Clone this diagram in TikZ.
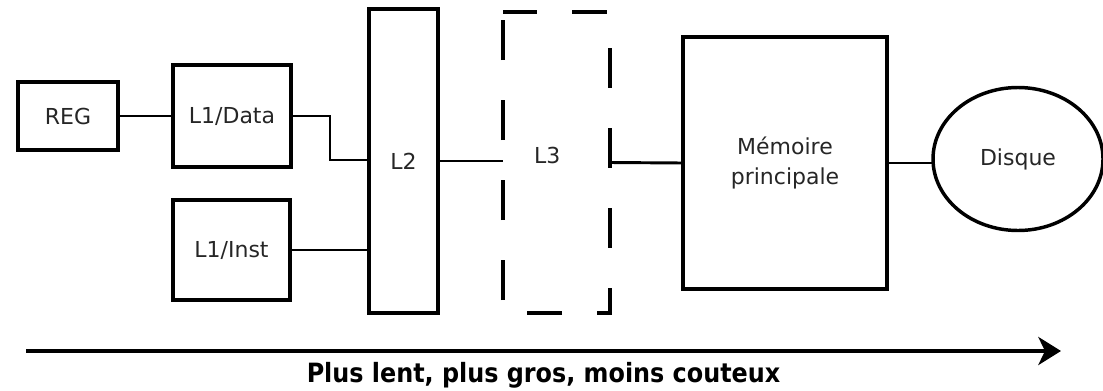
\documentclass[tikz,border=0pt]{standalone}
\usepackage{fontspec}
\setmainfont{DejaVu Sans}
\newfontfamily\captionfont{DejaVu Sans Condensed}
\usetikzlibrary{arrows.meta,shapes.geometric}
% one unit = one pixel of the final drawing
\newcommand\upx{*0.75pt}
\begin{document}
\begin{tikzpicture}[x=0.75pt,y=-0.75pt,
  box/.style={draw,line width=2.6pt,rectangle,inner sep=0pt,outer sep=0pt,
    font=\fontsize{16.5}{22.5}\selectfont,text=black!85},
  wire/.style={line width=2.2pt},
  dashedge/.style={line width=2.6pt},
  flow/.style={line width=3pt,-{Stealth[length=17pt,width=21pt,inset=5pt]}}]
\useasboundingbox (0,0) rectangle (1103,390);

% storage levels
\node[box,minimum width=100\upx,minimum height=68\upx] (reg) at (68,116) {REG};
\node[box,minimum width=118\upx,minimum height=102\upx] (l1d) at (232,116) {L1/Data};
\node[box,minimum width=117\upx,minimum height=100\upx] (l1i) at (231.5,250) {L1/Inst};
\node[box,minimum width=69\upx,minimum height=304\upx] (l2) at (403.5,161) {L2};
\node[box,draw=none,minimum width=107\upx,minimum height=301\upx,
  label={[font=\fontsize{16.5}{22.5}\selectfont,text=black!85,xshift=-7pt,yshift=5pt]center:L3}]
  (l3) at (556.5,162.5) {};
\node[box,minimum width=204\upx,minimum height=252\upx,align=center] (mem) at (785,163)
  {Mémoire\\principale};
\node[box,ellipse,minimum width=170\upx,minimum height=143\upx] (disk) at (1018,159) {Disque};

% dashed outline of the optional L3 level
\draw[dashedge,dash pattern=on 35\upx off 35\upx,dash phase=1\upx]
  (l3.north west) -- (l3.north east);
\draw[dashedge,dash pattern=on 40\upx off 40\upx,dash phase=44\upx]
  (l3.north east) -- ([yshift=25\upx]l3.south east);
\draw[dashedge] ([yshift=25\upx]l3.south east) -- (l3.south east) -- ([xshift=-13\upx]l3.south east);
\draw[dashedge,dash pattern=on 35\upx off 35\upx,dash phase=35\upx]
  ([xshift=-13\upx]l3.south east) -- (l3.south west);
\draw[dashedge,dash pattern=on 40\upx off 40\upx,dash phase=67\upx]
  (l3.south west) -- (l3.north west);

% links between levels
\coordinate (bend) at (330,160);
\draw[wire] (reg.east) -- (l1d.west);
\draw[wire] (l1d.east) -| (bend) -- (bend -| l2.west);
\draw[wire] (l1i.east) -- (l1i.east -| l2.west);
\draw[wire] (l2.east) -- (l2.east -| l3.west);
\draw[wire] (l3.east) -- (mem.west);
\draw[wire] (mem.east) -- (mem.east -| disk.west);

% hierarchy direction
\coordinate (from) at (26,351);
\coordinate (to) at (1061,351);
\draw[flow] (from) -- (to);
\node[anchor=base,inner sep=0pt,font=\captionfont\bfseries\fontsize{19.9}{24}\selectfont]
  (caption) at (543.5,382) {Plus lent, plus gros, moins couteux};
\end{tikzpicture}
\end{document}
